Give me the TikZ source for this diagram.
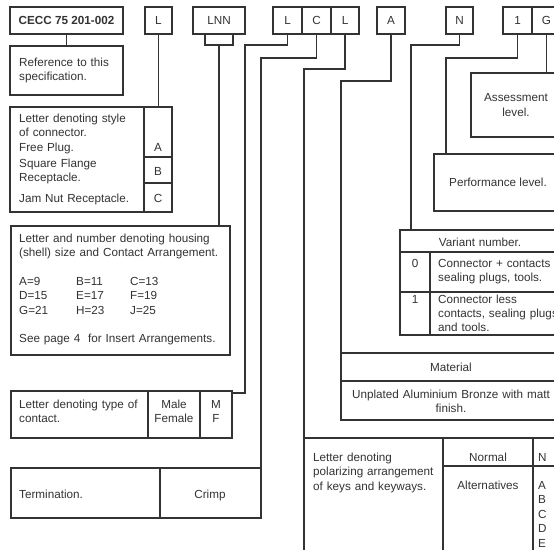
\documentclass[tikz,border=0pt]{standalone}
\usepackage{fontspec}
\setmainfont{Liberation Sans}
\usepackage{tikz}
\usetikzlibrary{positioning}
\definecolor{ink}{HTML}{333333}

\begin{document}
\begin{tikzpicture}[
  x=1pt, y=-1pt,
  every node/.style={text=ink, font=\fontsize{11.7}{14.5}\selectfont},
  box/.style 2 args={draw=ink, line width=1.1pt, inner sep=0pt, outer sep=0pt,
              anchor=north west, minimum width=#1, minimum height=#2},
  code/.style={box={#1}{27}},
  txt/.style={inner sep=0pt, anchor=base west, text width=#1, align=left},
  ctr/.style={inner sep=0pt, anchor=base, text width=#1, align=center},
  rule/.style={draw=ink, line width=1.1pt},
  link/.style={draw=ink, line width=1.1pt}
]
\useasboundingbox (0,0) rectangle (554,549);
\clip (0,0) rectangle (554,549);
\fill[white] (0,0) rectangle (554,549);

\node[code=113] (cecc) at (10,7) {\textbf{CECC 75 201-002}};
\node[code=27] (cl) at (145,7) {L};
\node[code=52] (clnn) at (193,7) {LNN};
\node[box={28}{11}, below=0pt of clnn] (tab) {};
\node[code=29] (l1) at (273,7) {L};
\node[code=29, right=0pt of l1] (cc) {C};
\node[code=28, right=0pt of cc] (l2) {L};
\node[code=28] (ca) at (377,7) {A};
\node[code=27] (cn) at (446,7) {N};
\node[code=29] (c1) at (503,7) {1};
\node[code=29, right=0pt of c1] (cg) {G};

\node[box={113}{49}] (ref) at (10,46) {};
\node[box={162}{105}] (style) at (10,107) {};
\node[box={219}{129}] (housing) at (11,226) {};
\node[box={221}{47}] (contact) at (11,391) {};
\node[box={250}{50}] (term) at (11,468) {};
\node[box={90}{64}, align=center] (assess) at (471,73) {Assessment\\level.};
\node[box={128}{57}, align=center] (perf) at (434,154) {Performance level.};
\node[box={161}{105}] (variant) at (400,230) {};
\node[box={220}{67}] (material) at (341,353) {};
\node[box={300}{140}] (polar) at (304,438) {};

\draw[rule] (144,107) -- (144,212) (144,157) -- (172,157) (144,183) -- (172,183);
\draw[rule] (148,391) -- (148,438) (200,391) -- (200,438);
\draw[rule] (160,468) -- (160,518);
\draw[rule] (400,252) -- (561,252) (400,292) -- (561,292) (430,252) -- (430,335);
\draw[rule] (341,381) -- (561,381);
\draw[rule] (443,438) -- (443,578) (533,438) -- (533,578) (443,466) -- (604,466);

\draw[link] (cecc) -- (ref);
\draw[link] (cl.south) -- (cl.south |- style.north);
\draw[link] (tab.south) -- (tab.south |- housing.north);
\draw[link] (l1.south) |- (245,45) |- ([yshift=-2pt]contact.north east);
\draw[link] (cc.south) |- (261,58) -- (term.north east);
\draw[link] (l2.south) |- (304,69) -- (polar.north west);
\draw[link] (ca.south) |- (341,81) -- (material.north west);
\draw[link] (cn.south) |- (411,45) |- (variant.north);
\draw[link] (c1.south) |- (446,58) |- (perf.north);
\draw[link] (cg.south) -- (cg.south |- assess.north);

\node[txt=110] (refT) at (19,66) {Reference to this\\specification.};
\node[txt=125] (styleT) at (19,122) {Letter denoting style\\of connector.\\Free Plug.};
\node[txt=125] (squareT) at (19,167) {Square Flange\\Receptacle.};
\node[txt=125] (jamT) at (19,202) {Jam Nut Receptacle.};
\node[ctr=20] (styA) at (158,151) {A};
\node[ctr=20] (styB) at (158,175) {B};
\node[ctr=20] (styC) at (158,202) {C};

\node[txt=210] (houseT) at (19,242) {Letter and number denoting housing\\(shell) size and Contact Arrangement.};
\node[txt=50] (szA) at (19,285) {A=9\\D=15\\G=21};
\node[txt=50] (szB) at (76,285) {B=11\\E=17\\H=23};
\node[txt=50] (szC) at (130,285) {C=13\\F=19\\J=25};
\node[txt=210] (pageT) at (19,342) {See page 4~ for Insert Arrangements.};

\node[txt=125] (contactT) at (19,408) {Letter denoting type of\\contact.};
\node[ctr=50] (mf) at (174,408) {Male\\Female};
\node[ctr=30] (mfL) at (216,408) {M\\F};
\node[txt=130] (termT) at (19,498) {Termination.};
\node[ctr=90] (crimp) at (210,498) {Crimp};

\node[ctr=150] (varT) at (480,246) {Variant number.};
\node[ctr=20] (v0) at (415,267) {0};
\node[txt=125] (v0T) at (438,267) {Connector + contacts\\sealing plugs, tools.};
\node[ctr=20] (v1) at (415,303) {1};
\node[txt=125, font=\fontsize{11.7}{14}\selectfont] (v1T) at (438,303) {Connector less\\contacts, sealing plugs\\and tools.};

\node[ctr=210] (matT) at (451,371) {Material};
\node[ctr=215] (matB) at (451,398) {Unplated Aluminium Bronze with matt\\finish.};

\node[txt=135] (polT) at (313,461) {Letter denoting\\polarizing arrangement\\of keys and keyways.};
\node[ctr=85] (normal) at (488,461) {Normal};
\node[ctr=85] (alt) at (488,489) {Alternatives};
\node[txt=20] (nN) at (538,461) {N};
\node[txt=20] (altL) at (538,489) {A\\B\\C\\D\\E};
\end{tikzpicture}
\end{document}
